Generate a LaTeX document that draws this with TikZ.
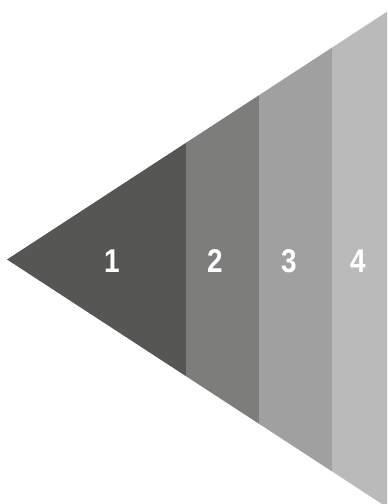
\documentclass[tikz,border=0pt]{standalone}
\usepackage{fontspec}
\newfontfamily\numfont[FakeStretch=0.85]{Liberation Sans Bold}
\usepackage{tikz}
\definecolor{bandA}{HTML}{565654}
\definecolor{bandB}{HTML}{7D7D7B}
\definecolor{bandC}{HTML}{A0A0A0}
\definecolor{bandD}{HTML}{BABABA}
\tikzset{num/.style = {text=white, font=\numfont\fontsize{33}{33}\selectfont, inner sep=0pt}}
\begin{document}
\begin{tikzpicture}[x=1bp, y=-1bp]
      \useasboundingbox (0,0) rectangle (387,504);
      \clip (0,0) rectangle (387,504);
      \fill [bandA] (7,259.5) -- (186,142.8) -- (186,376.2) -- cycle;
      \fill [bandB] (186,142.8) -- (259,95.2) -- (259,423.8) -- (186,376.2) -- cycle;
      \fill [bandC] (259,95.2) -- (332,47.6) -- (332,471.4) -- (259,423.8) -- cycle;
      \fill [bandD] (332,47.6) -- (387,11.7) -- (387,507.3) -- (332,471.4) -- cycle;
      \node [num] (one) at (112,261) {1};
      \node [num] (two) at (215,261) {2};
      \node [num] (three) at (289,261) {3};
      \node [num] (four) at (358,261) {4};
    \end{tikzpicture}
\end{document}
